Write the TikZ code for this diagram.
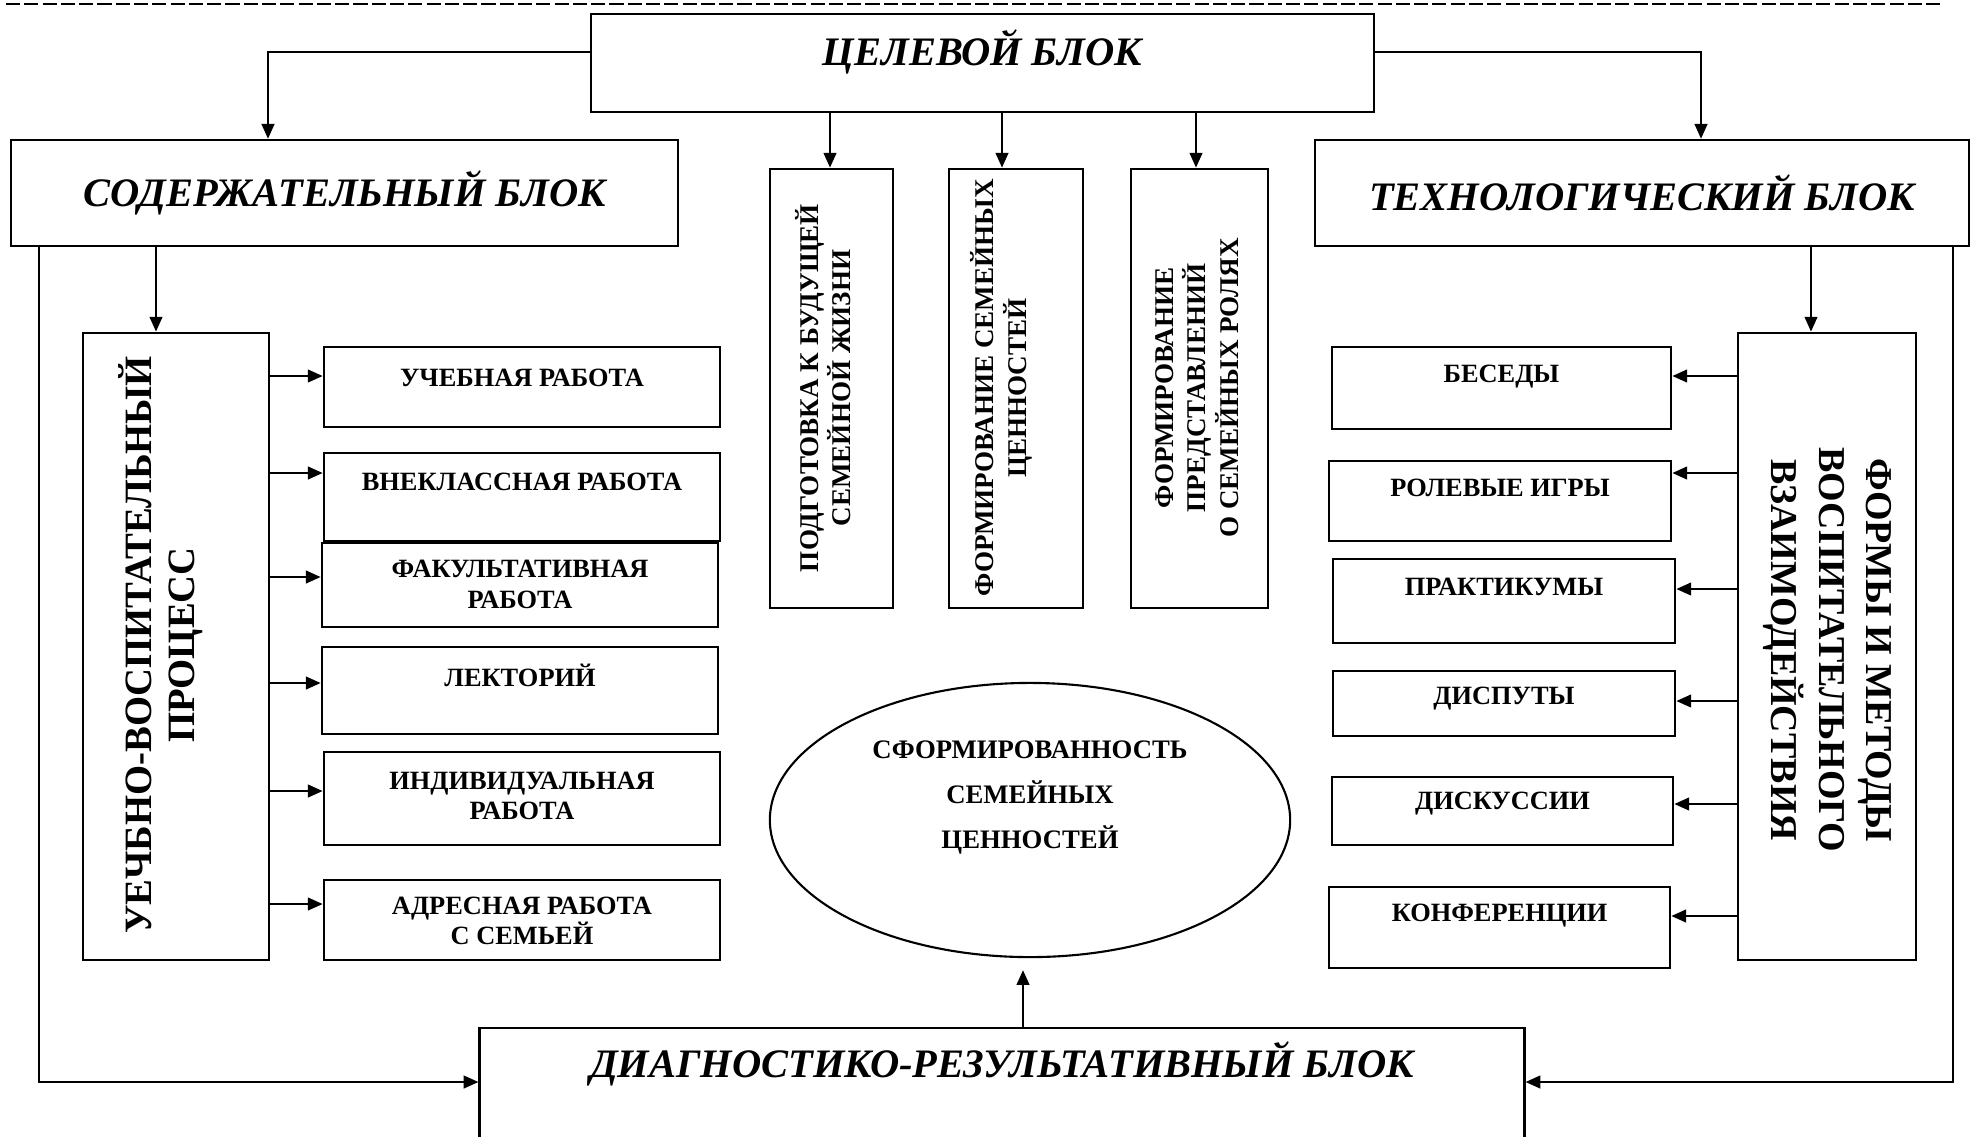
\documentclass[tikz,border=0pt]{standalone}
\usepackage{fontspec}
\setmainfont{Liberation Serif}
\usetikzlibrary{arrows.meta, shapes.geometric, positioning}

\begin{document}
\begin{tikzpicture}[x=0.01cm, y=-0.01cm,
        box/.style={draw, line width=0.7pt, inner sep=0pt},
        blocktxt/.style={font=\fontsize{11.5}{13}\selectfont\bfseries\itshape},
        smalltxt/.style={font=\fontsize{7.5}{8.6}\selectfont\bfseries, align=center},
        vtxt/.style={font=\fontsize{7.7}{9.3}\selectfont\bfseries, align=center, rotate=90},
        bigtxt/.style={font=\fontsize{11}{12.6}\selectfont\bfseries, align=center},
        arr/.style={-{Triangle[length=4.2pt,width=3.6pt]}, line width=0.6pt}]

        \useasboundingbox (0,0) rectangle (1973,1136);

        % --- top dashed rule ---
        \draw[line width=0.4pt, dash pattern=on 4pt off 1.2pt] (6,4) -- (1944,4);

        % --- main blocks ---
        \node[box, minimum width=7.83cm, minimum height=0.98cm] (cel) at (982.5,63) {};
        \node[blocktxt] (celt) at (982.5,52) {ЦЕЛЕВОЙ БЛОК};
        \node[box, blocktxt, minimum width=6.67cm, minimum height=1.06cm] (sod) at (344.5,193) {СОДЕРЖАТЕЛЬНЫЙ БЛОК};
        \node[box, blocktxt, minimum width=6.54cm, minimum height=1.06cm] (tech) at (1642,193) {ТЕХНОЛОГИЧЕСКИЙ БЛОК};
        \node[box, minimum width=10.44cm, minimum height=1.17cm] (diag) at (1002,1086.5) {};
        \node[blocktxt] (diagt) at (1002,1064) {ДИАГНОСТИКО-РЕЗУЛЬТАТИВНЫЙ БЛОК};

        % --- goal boxes (vertical text) ---
        \node[box, minimum width=1.23cm, minimum height=4.39cm] (v1) at (831.5,388.5) {};
        \node[box, minimum width=1.34cm, minimum height=4.39cm] (v2) at (1016,388.5) {};
        \node[box, minimum width=1.37cm, minimum height=4.39cm] (v3) at (1199.5,388.5) {};
        \node[vtxt] (v1t) at (823,388) {ПОДГОТОВКА К БУДУЩЕЙ\\СЕМЕЙНОЙ ЖИЗНИ};
        \node[vtxt] (v2t) at (1001,388) {ФОРМИРОВАНИЕ СЕМЕЙНЫХ\\ЦЕННОСТЕЙ};
        \node[vtxt] (v3t) at (1197,388) {ФОРМИРОВАНИЕ\\ПРЕДСТАВЛЕНИЙ\\О СЕМЕЙНЫХ РОЛЯХ};

        % --- result ellipse ---
        \node[draw, ellipse, line width=0.6pt, minimum width=5.2cm, minimum height=2.74cm] (ell) at (1030,820) {};
        \node[font=\fontsize{7.6}{12.8}\selectfont\bfseries, align=center] (ellt) at (1030,797) {СФОРМИРОВАННОСТЬ\\СЕМЕЙНЫХ\\ЦЕННОСТЕЙ};

        % --- left column ---
        \node[box, minimum width=1.86cm, minimum height=6.27cm] (uvp) at (176,646.5) {};
        \node[bigtxt, rotate=90, font=\fontsize{11}{12.2}\selectfont\bfseries] (uvpt) at (161,645) {УЕЧБНО-ВОСПИТАТЕЛЬНЫЙ\\ПРОЦЕСС};

        \node[box, minimum width=3.96cm, minimum height=0.80cm] (ucheb) at (522,387) {};
        \node[box, minimum width=3.96cm, minimum height=0.88cm] (vnekl) at (522,497) {};
        \node[box, minimum width=3.96cm, minimum height=0.84cm] (fakult) at (520,585) {};
        \node[box, minimum width=3.96cm, minimum height=0.87cm] (lekt) at (520,690.5) {};
        \node[box, minimum width=3.96cm, minimum height=0.93cm] (indiv) at (522,798.5) {};
        \node[box, minimum width=3.96cm, minimum height=0.80cm] (adres) at (522,920) {};
        \node[smalltxt] (uchebt) at (522,378) {УЧЕБНАЯ РАБОТА};
        \node[smalltxt] (vneklt) at (522,482) {ВНЕКЛАССНАЯ РАБОТА};
        \node[smalltxt] (fakultt) at (520,584.5) {ФАКУЛЬТАТИВНАЯ\\РАБОТА};
        \node[smalltxt] (lektt) at (520,675) {ЛЕКТОРИЙ};
        \node[smalltxt] (indivt) at (522,796) {ИНДИВИДУАЛЬНАЯ\\РАБОТА};
        \node[smalltxt] (adrest) at (522,921) {АДРЕСНАЯ РАБОТА\\С СЕМЬЕЙ};

        % --- right column ---
        \node[box, minimum width=1.78cm, minimum height=6.27cm] (forms) at (1827,646.5) {};
        \node[bigtxt, rotate=-90, font=\fontsize{10.8}{13.4}\selectfont\bfseries] (formst) at (1827.5,650) {ФОРМЫ И МЕТОДЫ\\ВОСПИТАТЕЛЬНОГО\\ВЗАИМОДЕЙСТВИЯ};

        \node[box, minimum width=3.39cm, minimum height=0.82cm] (besed) at (1501.5,388) {};
        \node[box, minimum width=3.42cm, minimum height=0.80cm] (rolev) at (1500,501) {};
        \node[box, minimum width=3.42cm, minimum height=0.84cm] (prakt) at (1504,601) {};
        \node[box, minimum width=3.42cm, minimum height=0.65cm] (disp) at (1504,703.5) {};
        \node[box, minimum width=3.41cm, minimum height=0.68cm] (disk) at (1502.5,811) {};
        \node[box, minimum width=3.41cm, minimum height=0.81cm] (konf) at (1499.5,927.5) {};
        \node[smalltxt] (besedt) at (1501.5,377) {БЕСЕДЫ};
        \node[smalltxt] (rolevt) at (1500,488) {РОЛЕВЫЕ ИГРЫ};
        \node[smalltxt] (praktt) at (1504,587) {ПРАКТИКУМЫ};
        \node[smalltxt] (dispt) at (1504,699) {ДИСПУТЫ};
        \node[smalltxt] (diskt) at (1502.5,804) {ДИСКУССИИ};
        \node[smalltxt] (konft) at (1499.5,916) {КОНФЕРЕНЦИИ};

        % --- connectors from the goal block ---
        \draw[arr] (cel.west |- celt) -| (268,0 |- sod.north);
        \draw[arr] (cel.east |- celt) -| (1701,0 |- tech.north);
        \draw[arr] (830,0 |- cel.south) -- (830,0 |- v1.north);
        \draw[arr] (1002,0 |- cel.south) -- (1002,0 |- v2.north);
        \draw[arr] (1196,0 |- cel.south) -- (1196,0 |- v3.north);

        % --- content block ---
        \draw[arr] (156,0 |- sod.south) -- (156,0 |- uvp.north);
        \foreach \n/\y in {ucheb/376, vnekl/473, fakult/577, lekt/683, indiv/791, adres/904}
            \draw[arr] (uvp.east |- 0,\y) -- (\n.west |- 0,\y);

        % --- technology block ---
        \draw[arr] (1811,0 |- tech.south) -- (1811,0 |- forms.north);
        \foreach \n/\y in {besed/376, rolev/473, prakt/589, disp/701, disk/804, konf/916}
            \draw[arr] (forms.west |- 0,\y) -- (\n.east |- 0,\y);

        % --- feedback to diagnostics ---
        \draw[arr] (39,0 |- sod.south) |- (diag.west |- 0,1082);
        \draw[arr] (1953,0 |- tech.south) |- (diag.east |- 0,1082);
        \draw[arr, shorten >=0.12cm] (1023,0 |- diag.north) -- (1023,0 |- ell.south);

\end{tikzpicture}
\end{document}
